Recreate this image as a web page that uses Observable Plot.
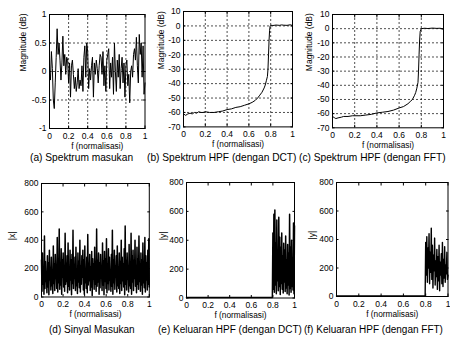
<!DOCTYPE html>
<html><head><meta charset="utf-8">
<script src="https://cdn.jsdelivr.net/npm/d3@7"></script>
<script src="https://cdn.jsdelivr.net/npm/@observablehq/plot@0.6"></script>
<style>
body{margin:0;background:#fff;}
#fig{position:relative;width:450px;height:341px;overflow:hidden;font-family:"Liberation Sans",Arial,sans-serif;background:#fff;}
.cap{position:absolute;font-size:10.2px;white-space:nowrap;color:#000;line-height:1;transform:translateY(-50%);}
.cap.low{font-size:10px;}
</style></head><body><div id="fig"></div>
<script>
// ---- tick labels ----
const xTicks = [0, 0.2, 0.4, 0.6, 0.8, 1];
const yTicksA = [-1, -0.5, 0, 0.5, 1];
const yTicksDb = [10, 0, -10, -20, -30, -40, -50, -60, -70];
const yTicksMag = [0, 200, 400, 600, 800];

// ---- (a) input spectrum (dB), evenly spaced over f in [0,1] ----
const specIn = [0.0, -0.15, 0.35, 0.05, -0.5, -0.65, -0.2, 0.25, 0.75, 0.3, 0.5, 0.2, -0.15, 0.15, 0.62, 0.1, 0.3, -0.05, 0.25, 0.2,
 -0.2, 0.15, -0.45, 0.1, 0.2, -0.05, -0.3, -0.1, -0.35, -0.2, 0.05, -0.3, -0.15, -0.25, 0.1, -0.35, 0.25, 0.45, -0.1, 0.5,
 0.35, -0.3, 0.05, -0.15, 0.1, 0.25, -0.45, 0.15, -0.05, 0.2, 0.05, -0.2, 0.1, 0.3, 0.25, -0.05, 0.35, -0.25, 0.1, -0.35,
 0.2, 0.3, 0.4, -0.3, 0.15, -0.1, 0.25, -0.4, 0.5, 0.0, -0.35, 0.2, -0.1, 0.3, -0.3, 0.05, 0.25, -0.2, 0.15, -0.45,
 0.1, 0.2, -0.25, -0.05, -0.55, 0.0, 0.1, -0.1, 0.3, 0.4, 0.2, 0.6, 0.1, -0.2, 0.65, 0.3, 0.5, -0.1, 0.45, -0.4, -0.2];

// ---- (b) HPF spectrum with DCT ----
const dctF  = [0, 0.02, 0.04, 0.06, 0.08, 0.1, 0.12, 0.14, 0.16, 0.18, 0.2, 0.24, 0.28, 0.32, 0.36, 0.4, 0.44, 0.48, 0.52, 0.56, 0.6, 0.63, 0.66, 0.68, 0.7, 0.72, 0.74, 0.75, 0.76, 0.77, 0.775, 0.78, 0.785, 0.79, 0.795, 0.8, 0.82, 0.85, 0.88, 0.9, 0.92, 0.95, 0.98, 1];
const dctDb = [-61, -62, -61, -60.5, -61, -60, -60.5, -59.5, -60, -60, -59.5, -60, -60, -59.5, -59, -58, -57.5, -56.5, -56, -55, -54, -53, -51.5, -50, -48, -46, -43, -41, -38, -35, -30, -20, -10, -3, 0, 0.5, 0.3, 0.6, 0.4, 0.7, 0.5, 0.4, 0.8, 0.3];

// ---- (c) HPF spectrum with FFT ----
const fftF  = [0, 0.02, 0.03, 0.05, 0.08, 0.1, 0.14, 0.18, 0.2, 0.25, 0.3, 0.35, 0.4, 0.45, 0.5, 0.55, 0.6, 0.64, 0.68, 0.7, 0.72, 0.74, 0.75, 0.76, 0.77, 0.775, 0.78, 0.785, 0.79, 0.8, 0.83, 0.86, 0.9, 0.94, 0.97, 1];
const fftDb = [-62, -63, -63.5, -63, -62.5, -62, -62, -61.5, -61.5, -61.5, -61, -60.5, -59.5, -59, -58.5, -57.5, -56, -55, -53, -51.5, -50, -47, -45, -42, -38, -30, -18, -8, -2, 0, 0.3, 0.1, 0.4, 0.2, 0.3, -0.5];

// ---- (d) input signal |x| ----
const sigIn = [260, 40, 310, 90, 200, 20, 430, 60, 250, 110, 180, 30, 290, 70, 240, 15, 330, 120, 210, 50,
 280, 80, 150, 25, 360, 95, 230, 45, 300, 130, 190, 60, 420, 35, 270, 100, 480, 55, 220, 85,
 340, 20, 260, 140, 310, 70, 200, 40, 450, 90, 240, 110, 290, 30, 380, 75, 210, 50, 330, 120,
 260, 15, 300, 95, 470, 60, 230, 130, 280, 45, 350, 80, 190, 25, 310, 105, 250, 65, 400, 35,
 220, 90, 290, 140, 330, 50, 260, 20, 360, 100, 200, 60, 280, 30, 440, 85, 240, 115, 300, 45,
 210, 70, 320, 10, 270, 125, 230, 55, 350, 90, 190, 40, 480, 75, 260, 105, 310, 20, 240, 65,
 300, 135, 200, 45, 380, 85, 250, 15, 320, 110, 270, 60, 410, 30, 230, 95, 340, 50, 280, 120,
 190, 40, 300, 75, 470, 20, 260, 100, 330, 55, 220, 140, 290, 35, 360, 80, 210, 60, 310, 25,
 250, 95, 400, 45, 280, 115, 230, 70, 340, 15, 500, 90, 260, 50, 310, 125, 200, 35, 370, 80,
 240, 60, 450, 20, 290, 105, 330, 45, 260, 130, 400, 75, 220, 30, 350, 90, 270, 55, 430, 110,
 230, 40, 310, 85, 260, 20, 380, 100, 200, 65, 420, 35, 290, 120, 240, 50, 330, 90, 410, 70];

// ---- (e),(f) outputs |y|: zero below cutoff, then values over [cutoff, 1] ----
const cutoffF = [0, 0.795];
const cutoffY = [3, 3];
const outDct = [450, 60, 580, 40, 610, 90, 380, 30, 540, 120, 300, 50, 560, 80, 420, 25, 350, 100, 450, 60, 290, 35, 380, 110, 330, 45, 430, 70, 260, 30, 370, 90, 310, 20, 580, 65, 350, 40, 400, 80, 280, 55, 520, 30, 500];
const outFft = [380, 150, 420, 100, 340, 200, 440, 90, 310, 170, 480, 120, 360, 60, 290, 180, 410, 80, 250, 140, 330, 50, 280, 110, 360, 40, 240, 150, 300, 90, 380, 70, 260, 130, 350, 100, 220, 160, 310, 120, 150];

// ---- build tables ----
const even = (vals, a, b) => vals.map((v, i) => ({f: a + (b - a) * i / (vals.length - 1), v}));
const pairs = (fs, vs) => fs.map((f, i) => ({f, v: vs[i]}));
const outTable = vals => pairs(cutoffF, cutoffY).concat(even(vals, 0.8, 1));

const fig = document.getElementById("fig");
const fmt = d => String(d);
const FONT = "'Liberation Sans', Arial, sans-serif";

function panel(o) {
  const ML = 50, MR = 8, MT = 8, MB = 28;
  const [l, r, t, b] = o.frame;
  const width = (r - l) + ML + MR, height = (b - t) + MT + MB;
  const marks = [];
  if (o.grid) {
    const g = {stroke: "#000", strokeOpacity: 1, strokeWidth: 0.7, strokeDasharray: "2,2"};
    marks.push(Plot.gridX(xTicks.slice(1, -1), g));
    marks.push(Plot.gridY(o.yTicks.slice(1, -1), g));
  }
  marks.push(Plot.line(o.data, {x: "f", y: "v", stroke: "#000", strokeWidth: o.sw || 1}));
  marks.push(Plot.frame({stroke: "#000", strokeWidth: 1}));
  for (const anchor of ["bottom", "top"])
    marks.push(Plot.axisX(xTicks, {anchor, tickSize: -2.5, tickFormat: () => "", label: null}));
  for (const anchor of ["left", "right"])
    marks.push(Plot.axisY(o.yTicks, {anchor, tickSize: -2.5, tickFormat: () => "", label: null}));
  marks.push(Plot.axisX(xTicks, {anchor: "bottom", tickSize: 0, tickPadding: 4, tickFormat: fmt, label: null, fontSize: 8.5}));
  marks.push(Plot.axisY(o.yTicks, {anchor: "left", tickSize: 0, tickPadding: 3, tickFormat: fmt, label: null, fontSize: 8.5}));
  marks.push(Plot.text(["f (normalisasi)"], {frameAnchor: "bottom", dy: 20, fontSize: 8.3}));
  marks.push(Plot.text([o.ylabel], {frameAnchor: "left", dx: -o.yOff, rotate: -90, fontSize: 8.5}));
  const svg = Plot.plot({
    width, height, marginLeft: ML, marginRight: MR, marginTop: MT, marginBottom: MB,
    x: {domain: [0, 1]}, y: {domain: o.yDomain},
    style: {fontFamily: FONT, fontSize: "8.5px", background: "transparent", overflow: "visible", color: "#000"},
    marks
  });
  svg.style.position = "absolute";
  svg.style.left = (l - ML) + "px";
  svg.style.top = (t - MT) + "px";
  fig.appendChild(svg);
}

panel({frame: [48.5, 144, 13.5, 127.5], data: even(specIn, 0, 1), yDomain: [-1, 1], yTicks: yTicksA, grid: true, ylabel: "Magnitude (dB)", yOff: 26});
panel({frame: [182.5, 291.5, 11.3, 126.7], data: pairs(dctF, dctDb), yDomain: [-70, 10], yTicks: yTicksDb, grid: true, ylabel: "Magnitude (dB)", yOff: 22});
panel({frame: [331.5, 442.5, 14, 127.3], data: pairs(fftF, fftDb), yDomain: [-70, 10], yTicks: yTicksDb, grid: true, ylabel: "Magnitude (dB)", yOff: 23});
panel({frame: [40.7, 148.5, 182.5, 296], data: even(sigIn, 0, 1), yDomain: [0, 800], yTicks: yTicksMag, grid: false, ylabel: "|x|", yOff: 29, sw: 1.5});
panel({frame: [186, 294, 182, 297.5], data: outTable(outDct), yDomain: [0, 800], yTicks: yTicksMag, grid: false, ylabel: "|y|", yOff: 23, sw: 1.5});
panel({frame: [336, 447.5, 182, 296], data: outTable(outFft), yDomain: [0, 800], yTicks: yTicksMag, grid: false, ylabel: "|y|", yOff: 24, sw: 1.4});

const captions = [
  ["(a) Spektrum masukan", 30, 158, ""],
  ["(b) Spektrum HPF (dengan DCT)", 147, 158, ""],
  ["(c) Spektrum HPF (dengan FFT)", 299, 158, ""],
  ["(d) Sinyal Masukan", 49, 330, "low"],
  ["(e) Keluaran HPF (dengan DCT)", 158, 330, "low"],
  ["(f) Keluaran HPF (dengan FFT)", 304, 330, "low"]
];
for (const [txt, x, y, cls] of captions) {
  const d = document.createElement("div");
  d.className = "cap " + cls;
  d.textContent = txt;
  d.style.left = x + "px";
  d.style.top = y + "px";
  fig.appendChild(d);
}
</script>
</body></html>
